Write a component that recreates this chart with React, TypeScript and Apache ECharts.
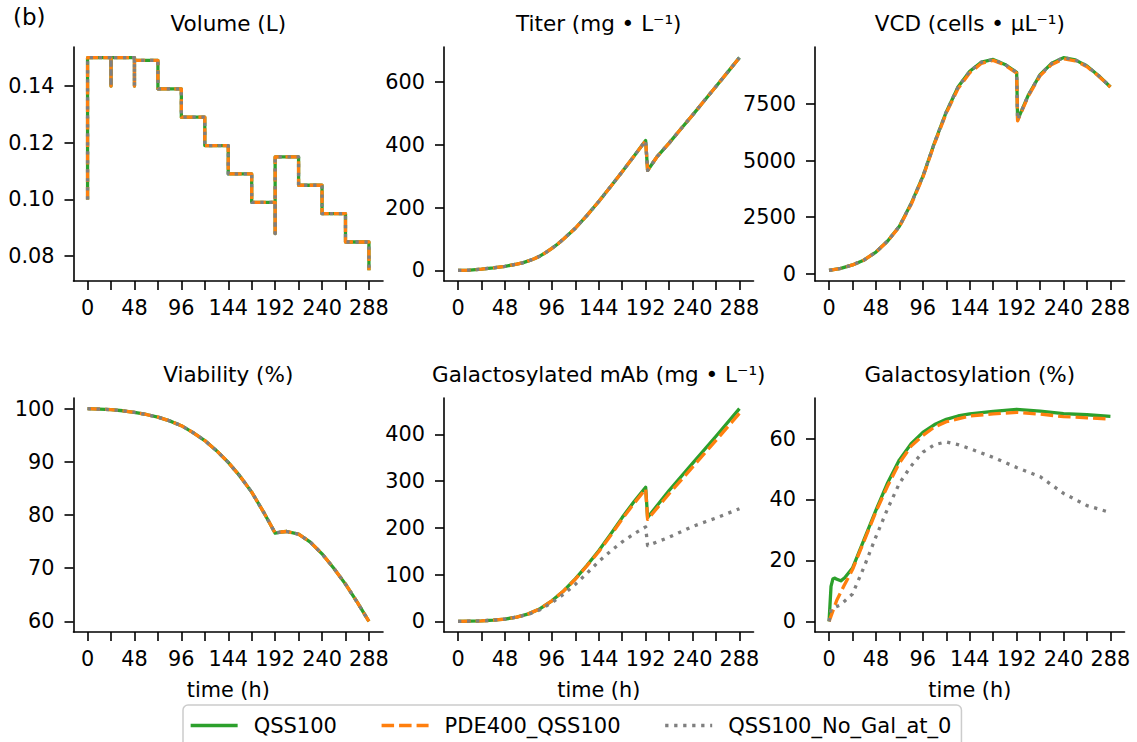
import React, { useEffect, useRef } from "react";
import * as echarts from "echarts";

// ---------- data ----------
const SERIES_NAMES = ["QSS100", "PDE400_QSS100", "QSS100_No_Gal_at_0"];
const X_TICKS = [0, 24, 48, 72, 96, 120, 144, 168, 192, 216, 240, 264, 288];
const X_LABELS = [0, 48, 96, 144, 192, 240, 288];

// Volume (L) - step profile (same for all three runs)
const volT = [0, 0, 24, 24, 24, 48, 48, 48, 72, 72, 96, 96, 120, 120, 144, 144, 168, 168, 192, 192, 192, 216, 216, 240, 240, 264, 264, 288, 288];
const volV = [0.1, 0.15, 0.15, 0.14, 0.15, 0.15, 0.14, 0.149, 0.149, 0.139, 0.139, 0.129, 0.129, 0.119, 0.119, 0.109, 0.109, 0.099, 0.099, 0.088, 0.115, 0.115, 0.105, 0.105, 0.095, 0.095, 0.085, 0.085, 0.075];
const volTicks = [0.08, 0.1, 0.12, 0.14];

// Titer (mg/L)
const titerT = [0, 12, 24, 36, 48, 60, 66, 72, 78, 84, 90, 96, 102, 108, 120, 132, 144, 156, 168, 180, 192, 194, 204, 216, 228, 240, 252, 264, 276, 288];
const titerV = [0, 1, 4, 8, 13, 20, 24, 30, 37, 46, 57, 70, 84, 100, 134, 175, 219, 266, 314, 363, 413, 318, 363, 405, 450, 494, 540, 585, 631, 677];
const titerTicks = [0, 200, 400, 600];

// VCD (cells/uL)
const vcdT = [0, 12, 24, 36, 48, 60, 72, 84, 96, 108, 120, 132, 144, 156, 168, 180, 192, 193, 204, 216, 228, 240, 252, 264, 276, 288];
const vcdQSS = [150, 240, 390, 610, 960, 1450, 2100, 3100, 4300, 5800, 7150, 8250, 8950, 9350, 9470, 9250, 8900, 6800, 7900, 8800, 9300, 9550, 9450, 9180, 8750, 8250];
const vcdPDE = [150, 240, 390, 610, 960, 1440, 2080, 3060, 4260, 5760, 7100, 8180, 8880, 9300, 9430, 9220, 8870, 6760, 7850, 8750, 9250, 9500, 9410, 9150, 8730, 8250];
const vcdTicks = [0, 2500, 5000, 7500];

// Viability (%)
const viaT = [0, 12, 24, 36, 48, 60, 72, 84, 96, 108, 120, 132, 144, 156, 168, 180, 192, 198, 204, 216, 228, 240, 252, 264, 276, 288];
const viaV = [100, 99.9, 99.8, 99.6, 99.3, 98.9, 98.4, 97.7, 96.8, 95.5, 94.0, 92.1, 89.9, 87.3, 84.3, 80.6, 76.6, 76.8, 76.9, 76.4, 74.9, 72.7, 70.0, 67.0, 63.6, 60.0];
const viaTicks = [60, 70, 80, 90, 100];

// Galactosylated mAb (mg/L)
const galT = [0, 12, 24, 36, 48, 60, 72, 84, 96, 108, 120, 132, 144, 156, 168, 180, 192, 194, 216, 240, 264, 288];
const galQSS = [0, 0.3, 1, 2.5, 5, 9, 16, 27, 44, 65, 91, 120, 151, 186, 222, 256, 287, 222, 280, 338, 396, 455];
const galPDE = [0, 0.3, 1, 2.5, 5, 9, 16, 27, 44, 65, 90, 119, 149, 183, 219, 252, 283, 218, 273, 330, 387, 445];
const galNoGal = [0, 0.3, 1, 2.5, 5, 9, 15, 25, 40, 58, 79, 103, 128, 150, 170, 187, 202, 162, 180, 203, 221, 241];
const galTicks = [0, 100, 200, 300, 400];

// Galactosylation (%)
const gpT_QSS = [0, 2, 4, 6, 8, 12, 16, 24, 36, 48, 60, 72, 84, 96, 108, 120, 132, 144, 168, 192, 216, 240, 264, 288];
const gpV_QSS = [0, 11.5, 14, 14.2, 13.8, 13.3, 14.3, 17.5, 27, 36.5, 45.5, 53, 58.3, 62, 64.6, 66.3, 67.4, 68.1, 68.9, 69.6, 69.0, 68.2, 67.8, 67.3];
const gpT_PDE = [0, 8, 15, 24, 36, 48, 60, 72, 84, 96, 108, 120, 144, 168, 192, 216, 240, 264, 288];
const gpV_PDE = [0, 7, 11.5, 17, 26.5, 36, 44.5, 52, 57.5, 61, 63.8, 65.5, 67.4, 68.1, 68.6, 68.0, 67.2, 66.8, 66.4];
const gpT_NoGal = [0, 2, 12, 24, 36, 48, 60, 72, 84, 96, 108, 120, 132, 144, 168, 192, 216, 240, 264, 288];
const gpV_NoGal = [0, 4, 5.5, 9, 18, 27.8, 37, 45.3, 51, 55.5, 58, 58.9, 58, 56.7, 53.8, 50.5, 47.5, 42, 38, 35.7];
const gpTicks = [0, 20, 40, 60];

// ---------- helpers ----------
const zip = (t: number[], v: number[]) => t.map((x, i) => [x, v[i]]);

const FONT = "DejaVu Sans";
const COLORS = ["#2ca02c", "#ff7f0e", "#7f7f7f"];
const DASHES: any[] = ["solid", [12.5, 5], [3.3, 5.7]];

const panels = [
  { title: "Volume (L)", min: 0.07125, max: 0.15375, ticks: volTicks, fmt: (v: number) => v.toFixed(2),
    data: [zip(volT, volV), zip(volT, volV), zip(volT, volV)] },
  { title: "Titer (mg \u2022 L\u207B\u00B9)", min: -33.85, max: 710.85, ticks: titerTicks, fmt: (v: number) => String(v),
    data: [zip(titerT, titerV), zip(titerT, titerV), zip(titerT, titerV)] },
  { title: "VCD (cells \u2022 \u03BCL\u207B\u00B9)", min: -320, max: 10020, ticks: vcdTicks, fmt: (v: number) => String(v),
    data: [zip(vcdT, vcdQSS), zip(vcdT, vcdPDE), zip(vcdT, vcdQSS)] },
  { title: "Viability (%)", min: 58, max: 102, ticks: viaTicks, fmt: (v: number) => String(v),
    data: [zip(viaT, viaV), zip(viaT, viaV), zip(viaT, viaV)] },
  { title: "Galactosylated mAb (mg \u2022 L\u207B\u00B9)", min: -22.75, max: 477.75, ticks: galTicks, fmt: (v: number) => String(v),
    data: [zip(galT, galQSS), zip(galT, galPDE), zip(galT, galNoGal)] },
  { title: "Galactosylation (%)", min: -3.49, max: 73.3, ticks: gpTicks, fmt: (v: number) => String(v),
    data: [zip(gpT_QSS, gpV_QSS), zip(gpT_PDE, gpV_PDE), zip(gpT_NoGal, gpV_NoGal)] },
];

const COL_LEFT = [73.5, 444, 815];
const ROW_TOP = [47, 398];
const GRID_W = 309.5;
const GRID_H = 234;

export default function App() {
  const ref = useRef<HTMLDivElement>(null);
  useEffect(() => {
    if (!ref.current) return;
    const chart = echarts.init(ref.current, undefined, { renderer: "svg" });
    const grids: any[] = [];
    const xAxes: any[] = [];
    const yAxes: any[] = [];
    const series: any[] = [];
    const graphics: any[] = [];
    panels.forEach((p, i) => {
      const col = i % 3;
      const row = Math.floor(i / 3);
      const left = COL_LEFT[col];
      const top = ROW_TOP[row];
      grids.push({ left, top, width: GRID_W, height: GRID_H, containLabel: false });
      xAxes.push({
        type: "value", gridIndex: i, min: -14.4, max: 302.4,
        axisLine: { show: true, onZero: false, lineStyle: { color: "#000", width: 1.6 } },
        axisTick: { show: true, length: 9, lineStyle: { color: "#000", width: 1.6 }, customValues: X_TICKS },
        axisLabel: { customValues: X_LABELS, margin: 16, fontSize: 20.8, color: "#000", fontFamily: FONT },
        splitLine: { show: false },
        name: row === 1 ? "time (h)" : "",
        nameLocation: "middle", nameGap: 47,
        nameTextStyle: { fontSize: 20.8, color: "#000", fontFamily: FONT },
      });
      yAxes.push({
        type: "value", gridIndex: i, min: p.min, max: p.max,
        axisLine: { show: true, onZero: false, lineStyle: { color: "#000", width: 1.6 } },
        axisTick: { show: true, length: 9, lineStyle: { color: "#000", width: 1.6 }, customValues: p.ticks },
        axisLabel: { customValues: p.ticks, margin: 19, fontSize: 20.8, color: "#000", fontFamily: FONT, formatter: p.fmt },
        splitLine: { show: false },
      });
      p.data.forEach((d, k) => {
        series.push({
          type: "line", name: SERIES_NAMES[k], xAxisIndex: i, yAxisIndex: i, data: d,
          symbol: "none", showSymbol: false, smooth: false, silent: true,
          lineStyle: { color: COLORS[k], width: 3.3, type: DASHES[k], cap: "butt", join: "round" },
          itemStyle: { color: COLORS[k] },
          emphasis: { disabled: true },
        });
      });
      graphics.push({
        type: "text", x: left + GRID_W / 2, y: top - 23.5,
        style: { text: p.title, font: `21.5px '${FONT}'`, fill: "#000", align: "center", verticalAlign: "middle" },
      });
    });
    graphics.push({
      type: "text", x: 13, y: 17,
      style: { text: "(b)", font: `23px '${FONT}'`, fill: "#000", align: "left", verticalAlign: "middle" },
    });
    chart.setOption({
      animation: false,
      backgroundColor: "#fff",
      textStyle: { fontFamily: FONT },
      grid: grids,
      xAxis: xAxes,
      yAxis: yAxes,
      series,
      graphic: graphics,
      legend: {
        show: true, data: SERIES_NAMES, orient: "horizontal", left: 183, top: 705,
        itemWidth: 47, itemHeight: 14, itemGap: 43, padding: [10, 10, 14, 6],
        borderColor: "#cccccc", borderWidth: 1.5, borderRadius: 5,
        backgroundColor: "rgba(255,255,255,0.8)",
        itemStyle: { opacity: 0, borderWidth: 0 },
        lineStyle: { width: 3.3, cap: "butt" },
        textStyle: { fontSize: 21, color: "#000", fontFamily: FONT, padding: [0, 0, 0, 11] },
        selectedMode: false,
      },
    });
    return () => chart.dispose();
  }, []);
  return <div ref={ref} style={{ position: "fixed", left: 0, top: 0, width: 1137, height: 742, background: "#fff" }} />;
}
